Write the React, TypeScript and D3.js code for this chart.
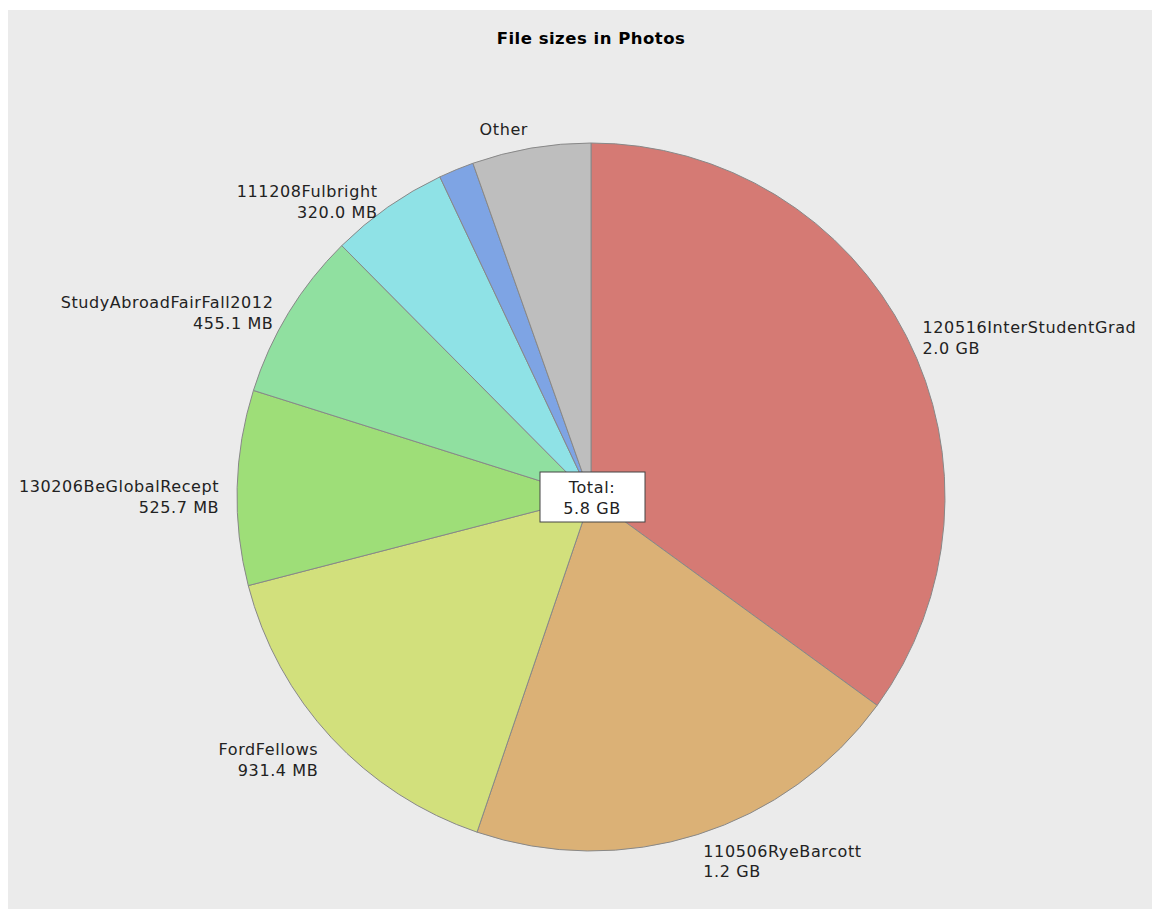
import React from "react";
import * as d3 from "d3";

const names = [
  "120516InterStudentGrad",
  "110506RyeBarcott",
  "FordFellows",
  "130206BeGlobalRecept",
  "StudyAbroadFairFall2012",
  "111208Fulbright",
  "",
  "Other",
];
// sizes in MB
const sizesMB = [2070, 1194, 931.4, 525.7, 455.1, 320.0, 95, 320];
const colors = [
  "#d57a74",
  "#dbb176",
  "#d2e07c",
  "#9ede78",
  "#90e0a0",
  "#8fe2e6",
  "#7ea4e4",
  "#bebebe",
];
const showValue = [true, true, true, true, true, true, false, false];
const title = "File sizes in Photos";

const W = 1170;
const H = 920;

function fmt(mb: number): string {
  return mb >= 1024 ? (mb / 1024).toFixed(1) + " GB" : mb.toFixed(1) + " MB";
}

export default function App() {
  const cx = 583;
  const cy = 487;
  const R = 354;
  const pie = d3.pie<number>().sort(null).value((d) => d);
  const arcs = pie(sizesMB);
  const arc = d3.arc<d3.PieArcDatum<number>>().innerRadius(0).outerRadius(R);
  const total = d3.sum(sizesMB);
  const font = "'DejaVu Sans', Verdana, sans-serif";
  const fs = 16;
  const ls = 0.6;
  const lh = 20.5;

  return (
    <svg
      width={W}
      height={H}
      style={{ display: "block", position: "fixed", left: 8, top: 10 }}
    >
      <rect x={0} y={0} width={W} height={H} fill="#ebebeb" />
      <text
        x={cx}
        y={34}
        textAnchor="middle"
        fontFamily={font}
        fontWeight="bold"
        fontSize={16.5}
        letterSpacing={0.5}
        fill="#000"
      >
        {title}
      </text>
      <g transform={`translate(${cx},${cy})`}>
        {arcs.map((a, i) => (
          <path key={i} d={arc(a) || ""} fill={colors[i]} stroke="#888888" strokeWidth={1} />
        ))}
        {arcs.map((a, i) => {
          if (!names[i]) return null;
          const mid = (a.startAngle + a.endAngle) / 2;
          const s = Math.sin(mid);
          const c = Math.cos(mid);
          const lr = R + 18;
          const ax = lr * s;
          const ay = -lr * c;
          const lines = showValue[i] ? [names[i], fmt(sizesMB[i])] : [names[i]];
          const anchor = s >= 0 ? "start" : "end";
          return (
            <text
              key={"l" + i}
              fontFamily={font}
              fontSize={fs}
              letterSpacing={ls}
              fill="#222"
              textAnchor={anchor}
            >
              {lines.map((t, j) => (
                <tspan key={j} x={ax} y={ay + 5 + j * lh}>
                  {t}
                </tspan>
              ))}
            </text>
          );
        })}
        <rect x={-51} y={-25} width={105} height={50} fill="#ffffff" stroke="#444" strokeWidth={1} />
        <text fontFamily={font} fontSize={fs} letterSpacing={ls} fill="#222" textAnchor="middle">
          <tspan x={1} y={-4}>Total:</tspan>
          <tspan x={1} y={17}>{fmt(total)}</tspan>
        </text>
      </g>
    </svg>
  );
}
